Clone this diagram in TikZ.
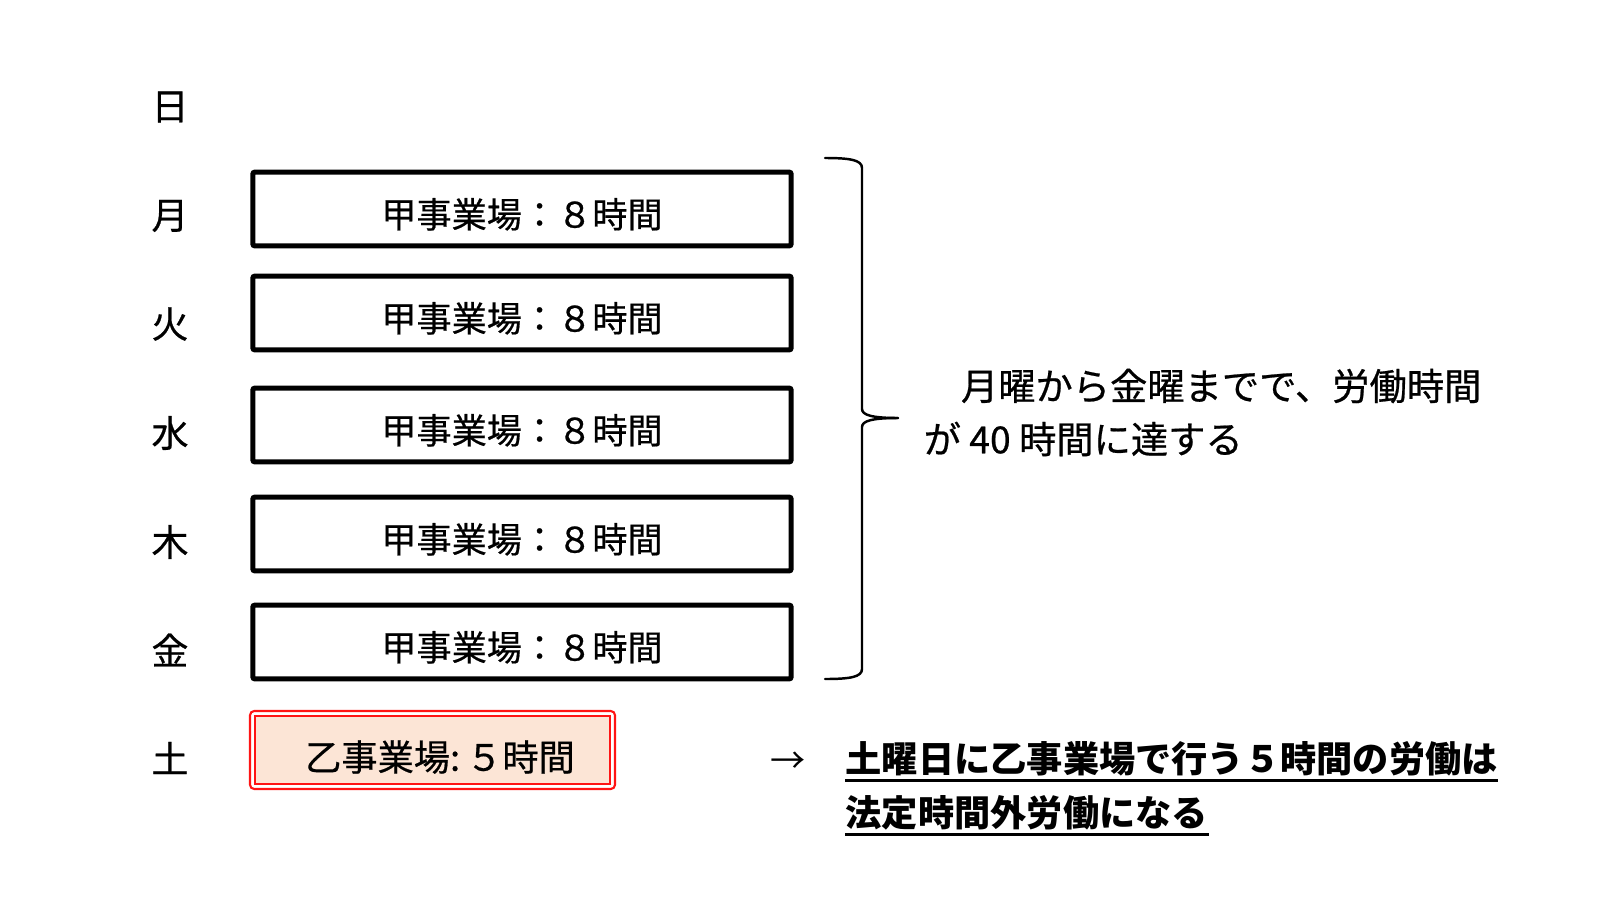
\documentclass[tikz,border=0pt]{standalone}
\usepackage{fontspec}
\setmainfont{Noto Sans CJK JP}
\newfontfamily\medjp[FakeBold=0.6]{Noto Sans CJK JP}
\begin{document}
\begin{tikzpicture}[x=0.01cm,y=-0.01cm,
  daylbl/.style={inner sep=0pt,font=\medjp\fontsize{10.5pt}{12pt}\selectfont},
  workbox/.style={draw=black,line width=1.45pt,rounded corners=0.6pt,minimum width=540*0.2835pt,minimum height=74*0.2835pt,inner sep=0pt,text height=1.06em,text depth=0pt,font=\medjp\fontsize{10pt}{12pt}\selectfont},
  notetxt/.style={inner sep=0pt,anchor=west,font=\medjp\fontsize{10.6pt}{12pt}\selectfont},
  bracestyle/.style={line width=0.7pt,line cap=round,line join=round},
  uline/.style={line width=0.75pt}]
\useasboundingbox (0,0) rectangle (1600,900);
\fill[white] (0,0) rectangle (1600,900);
% day labels
\node[daylbl] (dsun) at (170,107) {日};
\node[daylbl] (dmon) at (170,216) {月};
\node[daylbl] (dtue) at (170,324) {火};
\node[daylbl] (dwed) at (170,433) {水};
\node[daylbl] (dthu) at (170,542) {木};
\node[daylbl] (dfri) at (170,650) {金};
\node[daylbl] (dsat) at (170,758) {土};
% work boxes
\node[workbox] (bmon) at (522,209) {甲事業場：８時間};
\node[workbox] (btue) at (522,313) {甲事業場：８時間};
\node[workbox] (bwed) at (522,425) {甲事業場：８時間};
\node[workbox] (bthu) at (522,534) {甲事業場：８時間};
\node[workbox] (bfri) at (522,642) {甲事業場：８時間};
% saturday box
\definecolor{peach}{RGB}{252,229,214}
\definecolor{boxred}{RGB}{255,20,20}
\draw[boxred,line width=0.6pt,fill=white,rounded corners=1.2pt] (250,711) rectangle (615,789);
\draw[boxred,line width=0.5pt,fill=peach] (255,716) rectangle (610,784);
\node[inner sep=0pt,font=\medjp\fontsize{10.3pt}{12pt}\selectfont] (bsat) at (440,757) {乙事業場:\,５時間};
% brace
\draw[bracestyle] (825,158) .. controls (850,158) and (862,160) .. (862,168) -- (862,409)
  .. controls (862,415) and (872,418) .. (898,418);
\draw[bracestyle] (898,418) .. controls (872,418) and (862,421) .. (862,427) -- (862,669)
  .. controls (862,677) and (850,679) .. (825,679);
% right note
\node[notetxt] (n1) at (923,386) {\hspace{1em}月曜から金曜までで、労働時間};
\node[notetxt] (n2) at (923,439) {が 40 時間に達する};
% bottom note
\node[notetxt,font=\fontsize{10pt}{12pt}\selectfont] (arr) at (770,763) {→};
\node[notetxt,font=\fontsize{10.3pt}{12pt}\selectfont\bfseries] (s1) at (845,759) {土曜日に乙事業場で行う５時間の労働は};
\node[notetxt,font=\fontsize{10.3pt}{12pt}\selectfont\bfseries] (s2) at (845,813) {法定時間外労働になる};
\draw[uline] ([yshift=-1pt]s1.south west) -- ([yshift=-1pt]s1.south east);
\draw[uline] ([yshift=-1pt]s2.south west) -- ([yshift=-1pt]s2.south east);
\end{tikzpicture}
\end{document}
